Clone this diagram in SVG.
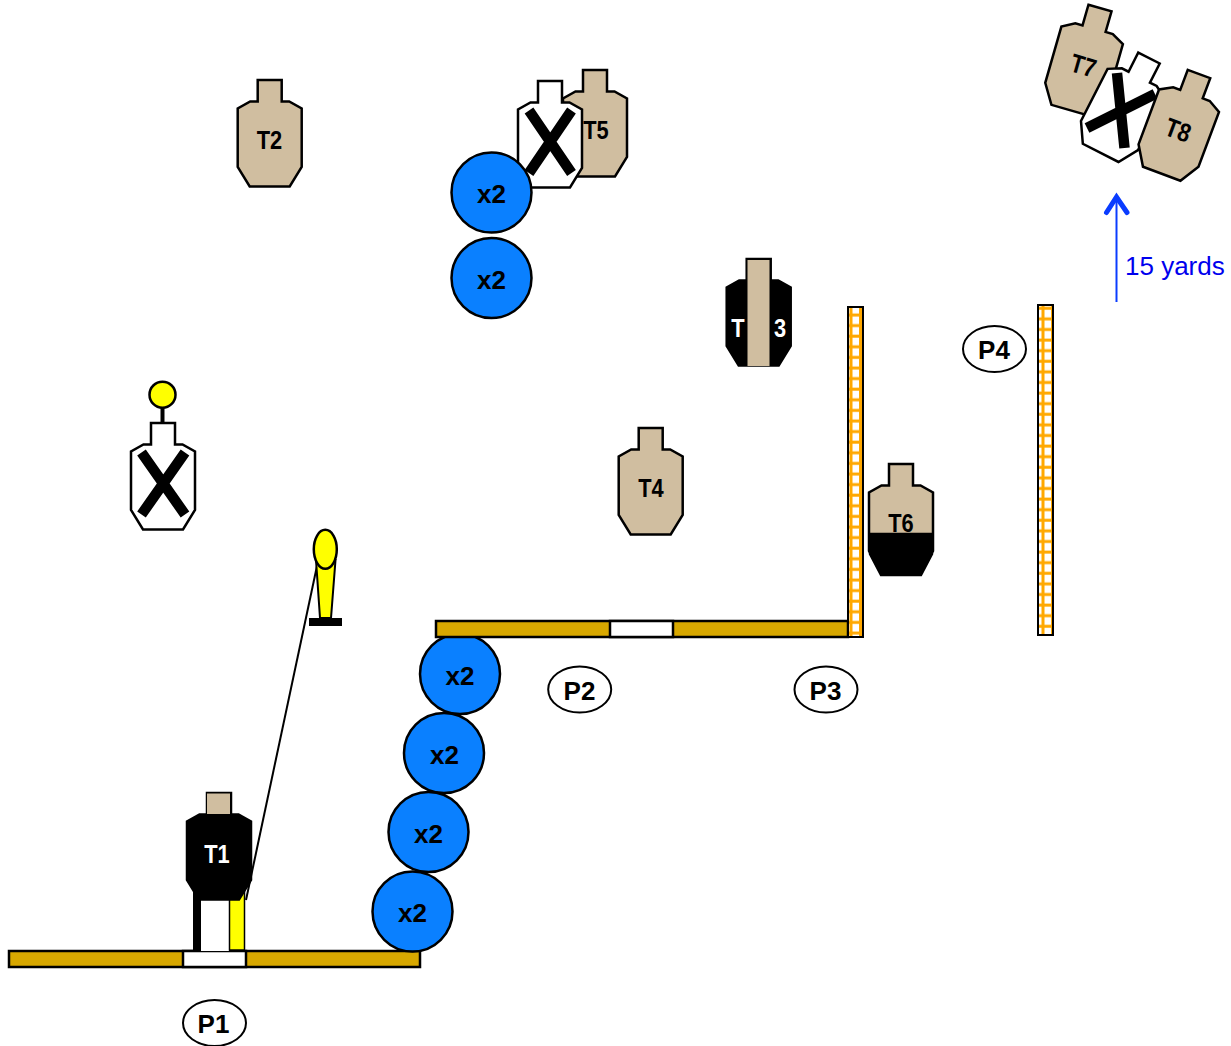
<svg xmlns="http://www.w3.org/2000/svg" width="1231" height="1046" viewBox="0 0 1231 1046">
<style>
text{font-family:"Liberation Sans",Arial,sans-serif;font-weight:bold;text-anchor:middle}
.tan{fill:#d0bea0;stroke:#000;stroke-width:2.500}
.wht{fill:#fff;stroke:#000;stroke-width:2.500}
.blk{fill:#000;stroke:#000;stroke-width:2.500}
.lbl{font-size:26px}
.bar{fill:#d8a800;stroke:#000;stroke-width:2.500}
.gap{fill:#fff;stroke:#000;stroke-width:2.500}
.cir{fill:#0a80ff;stroke:#000;stroke-width:2.500}
.pos{fill:#fff;stroke:#000;stroke-width:2}
.x{stroke:#000;stroke-width:10.500;fill:none}
.lad{stroke:#000;stroke-width:2}
</style>
<defs>
<path id="t" d="M-12 0H12V21.500H19.500L32 28.500V87L20 106.500H-20L-32 87V28.500L-19.500 21.500H-12Z"/>
<pattern id="ladder1" patternUnits="userSpaceOnUse" x="848" y="310" width="15" height="10.600">
<rect width="15" height="10.600" fill="#fff"/>
<path d="M0 5H15" stroke="#ffa800" stroke-width="3"/>
<path d="M3 0V10.600M12.500 0V10.600" stroke="#ffa800" stroke-width="3"/>
</pattern>
<pattern id="ladder2" patternUnits="userSpaceOnUse" x="1040" y="303.300" width="15" height="10.600">
<rect width="15" height="10.600" fill="#fff"/>
<path d="M0 5H15" stroke="#ffa800" stroke-width="3"/>
<path d="M3 0V10.600M12.500 0V10.600" stroke="#ffa800" stroke-width="3"/>
</pattern>
</defs>
<g id="connectors">
<path d="M317 566L246 900" stroke="#000" stroke-width="2" fill="none"/>
<path d="M1116.500 302V198" stroke="#0a3cff" stroke-width="2" fill="none"/>
<path d="M1106.500 212.500L1116.500 197L1127 212.500" stroke="#0a3cff" stroke-width="5" stroke-linecap="round" fill="none"/>
</g>
<g id="c3"><circle class="cir" cx="460" cy="674" r="40"/><text class="lbl" x="460" y="685">x2</text></g>
<g id="wall1"><rect class="bar" x="9" y="951" width="411" height="16"/><rect class="gap" x="183" y="951" width="63" height="16"/></g>
<g id="wall2"><rect class="bar" x="436" y="621" width="412" height="16"/><rect class="gap" x="610" y="621" width="63" height="16"/></g>
<g id="wall3"><rect class="lad" fill="url(#ladder1)" x="848" y="307" width="15" height="330"/></g>
<g id="wall4"><rect class="lad" fill="url(#ladder2)" x="1038" y="305" width="15" height="330"/></g>
<g id="post"><rect x="193" y="880" width="8" height="71" fill="#000"/><rect x="201" y="880" width="28" height="71" fill="#fff"/><rect x="229.500" y="880" width="15" height="70" fill="#ff0" stroke="#000" stroke-width="1.500"/></g>
<g id="T2"><use href="#t" class="tan" x="269.700" y="80"/><text class="lbl" transform="translate(269.500 149) scale(.84 1)">T2</text></g>
<g id="T5"><use href="#t" class="tan" x="595" y="70"/><text class="lbl" transform="translate(596 139) scale(.84 1)">T5</text></g>
<g id="NS1"><use href="#t" class="wht" x="550" y="81"/><path class="x" d="M529 110.500L571.500 173M571.500 110.500L529 173"/></g>
<g id="c1"><circle class="cir" cx="491.500" cy="192.500" r="40"/><text class="lbl" x="491.500" y="203">x2</text></g>
<g id="c2"><circle class="cir" cx="491.500" cy="278" r="40"/><text class="lbl" x="491.500" y="289">x2</text></g>
<g id="T3"><use href="#t" class="blk" x="758.700" y="259"/><rect x="747.500" y="260" width="22" height="106" fill="#d0bea0"/><text class="lbl" fill="#fff" transform="translate(738 337) scale(.84 1)">T</text><text class="lbl" fill="#fff" transform="translate(780 337) scale(.84 1)">3</text></g>
<g id="T4"><use href="#t" class="tan" x="650.700" y="428"/><text class="lbl" transform="translate(651 497) scale(.84 1)">T4</text></g>
<g id="T6"><use href="#t" class="tan" x="901" y="464"/><path class="blk" d="M870 534H932V554L921 575H881L870 554Z"/><text class="lbl" transform="translate(901 532) scale(.84 1)">T6</text></g>
<g id="T7"><g transform="translate(1100 8) rotate(16)"><use href="#t" class="tan"/><text class="lbl" transform="translate(0 69) scale(.84 1)">T7</text></g></g>
<g id="NS2"><g transform="translate(1149 58) rotate(27)"><use href="#t" class="wht"/></g><path class="x" d="M1117 73L1124.500 148M1155 94L1087 128"/></g>
<g id="T8"><g transform="translate(1199 74) rotate(20.500)"><use href="#t" class="tan"/><text class="lbl" transform="translate(0 69) scale(.84 1)">T8</text></g></g>
<g id="NS3"><path d="M162.500 405V424" stroke="#000" stroke-width="4"/><circle cx="162.500" cy="394.700" r="13" fill="#ff0" stroke="#000" stroke-width="2.500"/><use href="#t" class="wht" x="163" y="423"/><path class="x" d="M141.500 452.500L185 514.500M185 452.500L141.500 514.500"/></g>
<g id="popper"><path d="M316 560L320 618H331L335.500 560Z" fill="#ff0" stroke="#000" stroke-width="2"/><rect x="309" y="618" width="33" height="8" fill="#000"/><ellipse cx="325.300" cy="549.300" rx="11.500" ry="19.500" fill="#ff0" stroke="#000" stroke-width="2.500"/></g>
<g id="T1"><use href="#t" class="blk" x="219" y="793"/><rect x="207" y="793.500" width="23" height="20.500" fill="#d0bea0"/><text class="lbl" fill="#fff" transform="translate(217 863) scale(.84 1)">T1</text></g>
<g id="c4"><circle class="cir" cx="444" cy="753" r="40"/><text class="lbl" x="444.500" y="764">x2</text></g>
<g id="c5"><circle class="cir" cx="428.500" cy="832" r="40"/><text class="lbl" x="428.500" y="843">x2</text></g>
<g id="c6"><circle class="cir" cx="412.500" cy="911.500" r="40"/><text class="lbl" x="412.500" y="922">x2</text></g>
<g id="P1"><ellipse class="pos" cx="214.500" cy="1023" rx="31.500" ry="23"/><text class="lbl" x="213.500" y="1033">P1</text></g>
<g id="P2"><ellipse class="pos" cx="579.700" cy="689.500" rx="31.500" ry="23"/><text class="lbl" x="579.500" y="700">P2</text></g>
<g id="P3"><ellipse class="pos" cx="826" cy="689.500" rx="31.500" ry="23"/><text class="lbl" x="825.500" y="700">P3</text></g>
<g id="P4"><ellipse class="pos" cx="994.500" cy="349" rx="31.500" ry="23"/><text class="lbl" x="994" y="359">P4</text></g>
<g id="dist"><text x="1125" y="274.500" style="font-weight:normal;text-anchor:start;font-size:26px" fill="#0000ee">15 yards</text></g>
</svg>
